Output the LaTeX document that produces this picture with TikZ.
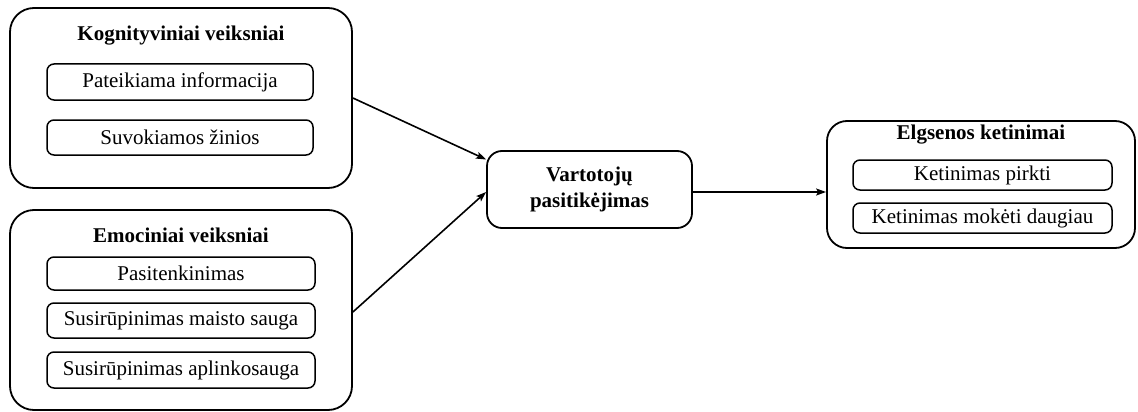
\documentclass[tikz,border=0pt]{standalone}
\usepackage{fontspec}
\setmainfont{Liberation Serif}
\usetikzlibrary{arrows.meta}
\begin{document}
\begin{tikzpicture}[x=1pt,y=-1pt,
  every node/.style={font=\fontsize{21}{26}\selectfont, inner sep=0pt},
  outerbox/.style={draw, line width=1.8pt, rounded corners=24pt},
  innerbox/.style={draw, line width=1.5pt, rounded corners=7pt},
  title/.style={font=\fontsize{21}{26}\selectfont\bfseries},
  arr/.style={line width=1.6pt, -{Stealth[length=10pt,width=7pt,inset=2pt]}}]
\useasboundingbox (0,0) rectangle (1138,412);
% Kognityviniai
\node[outerbox, minimum width=342pt, minimum height=180pt] (k) at (181,98) {};
\node[title] (kt) at (181,36) {Kognityviniai veiksniai};
\node[innerbox, minimum width=266pt, minimum height=36pt] (k1) at (180,82) {Pateikiama informacija};
\node[innerbox, minimum width=266pt, minimum height=35pt] (k2) at (180,137.5) {Suvokiamos žinios};
% Emociniai
\node[outerbox, minimum width=342pt, minimum height=200pt] (e) at (181,310) {};
\node[title] (et) at (181,235) {Emociniai veiksniai};
\node[innerbox, minimum width=268pt, minimum height=33pt] (e1) at (181,273.5) {Pasitenkinimas};
\node[innerbox, minimum width=268pt, minimum height=35pt] (e2) at (181,320.5) {Susirūpinimas maisto sauga};
\node[innerbox, minimum width=268pt, minimum height=36pt] (e3) at (181,370) {Susirūpinimas aplinkosauga};
% Center
\node[draw, line width=1.8pt, rounded corners=15pt, minimum width=205pt, minimum height=77pt, align=center, font=\fontsize{21}{26}\selectfont\bfseries] (v) at (589.5,189.5) {Vartotojų\\pasitikėjimas};
% Right
\node[outerbox, rounded corners=20pt, minimum width=308pt, minimum height=127pt] (r) at (981,184.5) {};
\node[title] (rt) at (981,135) {Elgsenos ketinimai};
\node[innerbox, minimum width=259pt, minimum height=30pt] (r1) at (982.5,175) {Ketinimas pirkti};
\node[innerbox, minimum width=259pt, minimum height=30pt] (r2) at (982.5,218) {Ketinimas mokėti daugiau};
% Arrows
\draw[arr] (k.east) -- ([yshift=30pt]v.west);
\draw[arr] ([yshift=-2pt]e.east) -- ([yshift=-2.5pt]v.west);
\draw[arr] ([yshift=-2.5pt]v.east) coordinate (a3) -- (a3 -| r.west);
\end{tikzpicture}
\end{document}
